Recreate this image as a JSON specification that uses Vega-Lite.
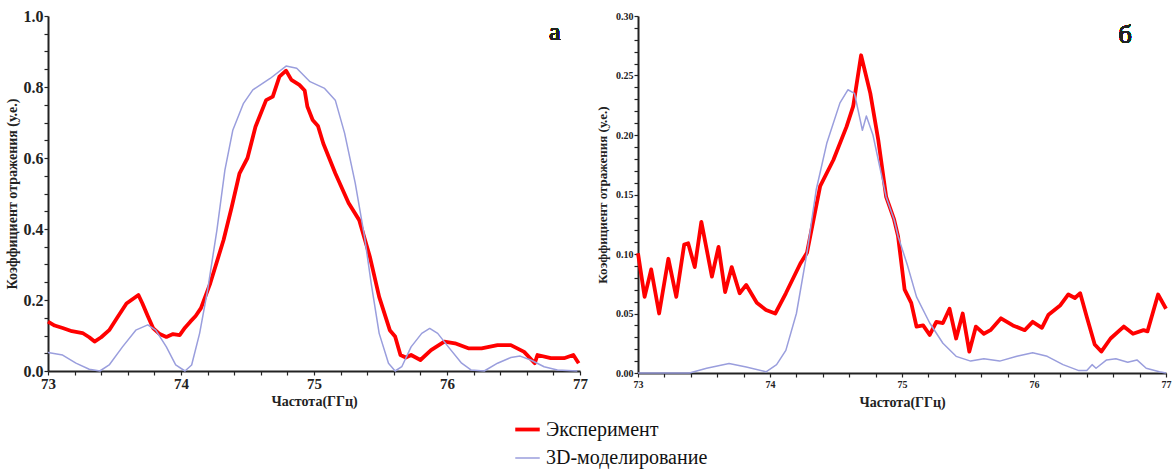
{
  "$schema": "https://vega.github.io/schema/vega-lite/v6.json",
  "padding": {"left": 5, "top": 8, "right": 5, "bottom": 5},
  "background": "white",
  "config": {
    "view": {"stroke": null},
    "axis": {"grid": false, "domainColor": "#222", "domainWidth": 2, "tickColor": "#222", "tickSize": 4, "tickWidth": 1.2, "labelFont": "Liberation Serif", "labelFontWeight": "bold", "labelColor": "#222", "titleFont": "Liberation Serif", "titleFontWeight": "bold", "titleColor": "#222", "labelFlush": false, "labelOverlap": false},
    "legend": {"labelFont": "Liberation Serif", "labelFontSize": 20, "labelColor": "#111", "labelLimit": 0, "symbolType": "stroke", "symbolSize": 600, "rowPadding": 5, "title": null}
  },
  "datasets": {
    "d": [
      {"panel": "a", "series": "Эксперимент", "f": 73.0, "r": 0.139},
      {"panel": "a", "series": "Эксперимент", "f": 73.05, "r": 0.128},
      {"panel": "a", "series": "Эксперимент", "f": 73.11, "r": 0.121},
      {"panel": "a", "series": "Эксперимент", "f": 73.18, "r": 0.112},
      {"panel": "a", "series": "Эксперимент", "f": 73.26, "r": 0.107},
      {"panel": "a", "series": "Эксперимент", "f": 73.31, "r": 0.095},
      {"panel": "a", "series": "Эксперимент", "f": 73.35, "r": 0.083},
      {"panel": "a", "series": "Эксперимент", "f": 73.4, "r": 0.095},
      {"panel": "a", "series": "Эксперимент", "f": 73.46, "r": 0.115},
      {"panel": "a", "series": "Эксперимент", "f": 73.52, "r": 0.15},
      {"panel": "a", "series": "Эксперимент", "f": 73.59, "r": 0.19},
      {"panel": "a", "series": "Эксперимент", "f": 73.68, "r": 0.214},
      {"panel": "a", "series": "Эксперимент", "f": 73.71, "r": 0.19},
      {"panel": "a", "series": "Эксперимент", "f": 73.75, "r": 0.155},
      {"panel": "a", "series": "Эксперимент", "f": 73.79, "r": 0.121},
      {"panel": "a", "series": "Эксперимент", "f": 73.84, "r": 0.104},
      {"panel": "a", "series": "Эксперимент", "f": 73.89, "r": 0.096},
      {"panel": "a", "series": "Эксперимент", "f": 73.94, "r": 0.104},
      {"panel": "a", "series": "Эксперимент", "f": 73.99, "r": 0.101},
      {"panel": "a", "series": "Эксперимент", "f": 74.03, "r": 0.122},
      {"panel": "a", "series": "Эксперимент", "f": 74.07, "r": 0.139},
      {"panel": "a", "series": "Эксперимент", "f": 74.11, "r": 0.155},
      {"panel": "a", "series": "Эксперимент", "f": 74.15, "r": 0.177},
      {"panel": "a", "series": "Эксперимент", "f": 74.22, "r": 0.247},
      {"panel": "a", "series": "Эксперимент", "f": 74.32, "r": 0.369},
      {"panel": "a", "series": "Эксперимент", "f": 74.38, "r": 0.46},
      {"panel": "a", "series": "Эксперимент", "f": 74.44, "r": 0.557},
      {"panel": "a", "series": "Эксперимент", "f": 74.5, "r": 0.6},
      {"panel": "a", "series": "Эксперимент", "f": 74.56, "r": 0.688},
      {"panel": "a", "series": "Эксперимент", "f": 74.64, "r": 0.763},
      {"panel": "a", "series": "Эксперимент", "f": 74.69, "r": 0.773},
      {"panel": "a", "series": "Эксперимент", "f": 74.74, "r": 0.829},
      {"panel": "a", "series": "Эксперимент", "f": 74.79, "r": 0.846},
      {"panel": "a", "series": "Эксперимент", "f": 74.83, "r": 0.82},
      {"panel": "a", "series": "Эксперимент", "f": 74.89, "r": 0.806},
      {"panel": "a", "series": "Эксперимент", "f": 74.93, "r": 0.79},
      {"panel": "a", "series": "Эксперимент", "f": 74.95, "r": 0.745},
      {"panel": "a", "series": "Эксперимент", "f": 74.99, "r": 0.707},
      {"panel": "a", "series": "Эксперимент", "f": 75.03, "r": 0.69},
      {"panel": "a", "series": "Эксперимент", "f": 75.07, "r": 0.641},
      {"panel": "a", "series": "Эксперимент", "f": 75.16, "r": 0.557},
      {"panel": "a", "series": "Эксперимент", "f": 75.26, "r": 0.473},
      {"panel": "a", "series": "Эксперимент", "f": 75.34, "r": 0.425},
      {"panel": "a", "series": "Эксперимент", "f": 75.42, "r": 0.322},
      {"panel": "a", "series": "Эксперимент", "f": 75.49, "r": 0.209},
      {"panel": "a", "series": "Эксперимент", "f": 75.57, "r": 0.115},
      {"panel": "a", "series": "Эксперимент", "f": 75.61, "r": 0.097},
      {"panel": "a", "series": "Эксперимент", "f": 75.65, "r": 0.045},
      {"panel": "a", "series": "Эксперимент", "f": 75.69, "r": 0.038},
      {"panel": "a", "series": "Эксперимент", "f": 75.73, "r": 0.045},
      {"panel": "a", "series": "Эксперимент", "f": 75.8, "r": 0.031},
      {"panel": "a", "series": "Эксперимент", "f": 75.88, "r": 0.059},
      {"panel": "a", "series": "Эксперимент", "f": 75.98, "r": 0.083},
      {"panel": "a", "series": "Эксперимент", "f": 76.06, "r": 0.078},
      {"panel": "a", "series": "Эксперимент", "f": 76.16, "r": 0.064},
      {"panel": "a", "series": "Эксперимент", "f": 76.26, "r": 0.064},
      {"panel": "a", "series": "Эксперимент", "f": 76.38, "r": 0.073},
      {"panel": "a", "series": "Эксперимент", "f": 76.48, "r": 0.073},
      {"panel": "a", "series": "Эксперимент", "f": 76.58, "r": 0.054},
      {"panel": "a", "series": "Эксперимент", "f": 76.66, "r": 0.022},
      {"panel": "a", "series": "Эксперимент", "f": 76.68, "r": 0.045},
      {"panel": "a", "series": "Эксперимент", "f": 76.78, "r": 0.036},
      {"panel": "a", "series": "Эксперимент", "f": 76.88, "r": 0.036},
      {"panel": "a", "series": "Эксперимент", "f": 76.95, "r": 0.045},
      {"panel": "a", "series": "Эксперимент", "f": 76.99, "r": 0.022},

      {"panel": "a", "series": "3D-моделирование", "f": 73.0, "r": 0.052},
      {"panel": "a", "series": "3D-моделирование", "f": 73.11, "r": 0.045},
      {"panel": "a", "series": "3D-моделирование", "f": 73.21, "r": 0.022},
      {"panel": "a", "series": "3D-моделирование", "f": 73.31, "r": 0.005},
      {"panel": "a", "series": "3D-моделирование", "f": 73.39, "r": 0.0},
      {"panel": "a", "series": "3D-моделирование", "f": 73.46, "r": 0.017},
      {"panel": "a", "series": "3D-моделирование", "f": 73.56, "r": 0.068},
      {"panel": "a", "series": "3D-моделирование", "f": 73.66, "r": 0.115},
      {"panel": "a", "series": "3D-моделирование", "f": 73.75, "r": 0.13},
      {"panel": "a", "series": "3D-моделирование", "f": 73.81, "r": 0.115},
      {"panel": "a", "series": "3D-моделирование", "f": 73.89, "r": 0.068},
      {"panel": "a", "series": "3D-моделирование", "f": 73.96, "r": 0.017},
      {"panel": "a", "series": "3D-моделирование", "f": 74.03, "r": 0.0},
      {"panel": "a", "series": "3D-моделирование", "f": 74.08, "r": 0.017},
      {"panel": "a", "series": "3D-моделирование", "f": 74.14, "r": 0.106},
      {"panel": "a", "series": "3D-моделирование", "f": 74.2, "r": 0.228},
      {"panel": "a", "series": "3D-моделирование", "f": 74.27, "r": 0.397},
      {"panel": "a", "series": "3D-моделирование", "f": 74.33, "r": 0.566},
      {"panel": "a", "series": "3D-моделирование", "f": 74.39, "r": 0.679},
      {"panel": "a", "series": "3D-моделирование", "f": 74.47, "r": 0.754},
      {"panel": "a", "series": "3D-моделирование", "f": 74.54, "r": 0.792},
      {"panel": "a", "series": "3D-моделирование", "f": 74.67, "r": 0.824},
      {"panel": "a", "series": "3D-моделирование", "f": 74.79, "r": 0.859},
      {"panel": "a", "series": "3D-моделирование", "f": 74.87, "r": 0.853},
      {"panel": "a", "series": "3D-моделирование", "f": 74.97, "r": 0.815},
      {"panel": "a", "series": "3D-моделирование", "f": 75.08, "r": 0.796},
      {"panel": "a", "series": "3D-моделирование", "f": 75.16, "r": 0.763},
      {"panel": "a", "series": "3D-моделирование", "f": 75.23, "r": 0.67},
      {"panel": "a", "series": "3D-моделирование", "f": 75.31, "r": 0.529},
      {"panel": "a", "series": "3D-моделирование", "f": 75.38, "r": 0.378},
      {"panel": "a", "series": "3D-моделирование", "f": 75.43, "r": 0.247},
      {"panel": "a", "series": "3D-моделирование", "f": 75.49, "r": 0.106},
      {"panel": "a", "series": "3D-моделирование", "f": 75.56, "r": 0.022},
      {"panel": "a", "series": "3D-моделирование", "f": 75.61, "r": 0.0},
      {"panel": "a", "series": "3D-моделирование", "f": 75.66, "r": 0.012},
      {"panel": "a", "series": "3D-моделирование", "f": 75.73, "r": 0.068},
      {"panel": "a", "series": "3D-моделирование", "f": 75.81, "r": 0.106},
      {"panel": "a", "series": "3D-моделирование", "f": 75.87, "r": 0.12},
      {"panel": "a", "series": "3D-моделирование", "f": 75.93, "r": 0.106},
      {"panel": "a", "series": "3D-моделирование", "f": 76.01, "r": 0.068},
      {"panel": "a", "series": "3D-моделирование", "f": 76.11, "r": 0.022},
      {"panel": "a", "series": "3D-моделирование", "f": 76.18, "r": 0.003},
      {"panel": "a", "series": "3D-моделирование", "f": 76.28, "r": 0.0},
      {"panel": "a", "series": "3D-моделирование", "f": 76.38, "r": 0.022},
      {"panel": "a", "series": "3D-моделирование", "f": 76.48, "r": 0.038},
      {"panel": "a", "series": "3D-моделирование", "f": 76.55, "r": 0.042},
      {"panel": "a", "series": "3D-моделирование", "f": 76.63, "r": 0.031},
      {"panel": "a", "series": "3D-моделирование", "f": 76.73, "r": 0.012},
      {"panel": "a", "series": "3D-моделирование", "f": 76.83, "r": 0.003},
      {"panel": "a", "series": "3D-моделирование", "f": 76.98, "r": 0.0},

      {"panel": "b", "series": "Эксперимент", "f": 73.0, "r": 0.1006},
      {"panel": "b", "series": "Эксперимент", "f": 73.05, "r": 0.064},
      {"panel": "b", "series": "Эксперимент", "f": 73.1, "r": 0.087},
      {"panel": "b", "series": "Эксперимент", "f": 73.16, "r": 0.05},
      {"panel": "b", "series": "Эксперимент", "f": 73.23, "r": 0.096},
      {"panel": "b", "series": "Эксперимент", "f": 73.29, "r": 0.064},
      {"panel": "b", "series": "Эксперимент", "f": 73.35, "r": 0.108},
      {"panel": "b", "series": "Эксперимент", "f": 73.38, "r": 0.109},
      {"panel": "b", "series": "Эксперимент", "f": 73.43, "r": 0.089},
      {"panel": "b", "series": "Эксперимент", "f": 73.48, "r": 0.127},
      {"panel": "b", "series": "Эксперимент", "f": 73.56, "r": 0.081},
      {"panel": "b", "series": "Эксперимент", "f": 73.61, "r": 0.106},
      {"panel": "b", "series": "Эксперимент", "f": 73.66, "r": 0.068},
      {"panel": "b", "series": "Эксперимент", "f": 73.71, "r": 0.089},
      {"panel": "b", "series": "Эксперимент", "f": 73.77, "r": 0.067},
      {"panel": "b", "series": "Эксперимент", "f": 73.82, "r": 0.074},
      {"panel": "b", "series": "Эксперимент", "f": 73.9, "r": 0.059},
      {"panel": "b", "series": "Эксперимент", "f": 73.97, "r": 0.053},
      {"panel": "b", "series": "Эксперимент", "f": 74.04, "r": 0.05},
      {"panel": "b", "series": "Эксперимент", "f": 74.12, "r": 0.067},
      {"panel": "b", "series": "Эксперимент", "f": 74.23, "r": 0.092},
      {"panel": "b", "series": "Эксперимент", "f": 74.28, "r": 0.101},
      {"panel": "b", "series": "Эксперимент", "f": 74.38, "r": 0.157},
      {"panel": "b", "series": "Эксперимент", "f": 74.48, "r": 0.179},
      {"panel": "b", "series": "Эксперимент", "f": 74.58, "r": 0.207},
      {"panel": "b", "series": "Эксперимент", "f": 74.63, "r": 0.224},
      {"panel": "b", "series": "Эксперимент", "f": 74.69, "r": 0.267},
      {"panel": "b", "series": "Эксперимент", "f": 74.76, "r": 0.235},
      {"panel": "b", "series": "Эксперимент", "f": 74.82, "r": 0.196},
      {"panel": "b", "series": "Эксперимент", "f": 74.88, "r": 0.148},
      {"panel": "b", "series": "Эксперимент", "f": 74.94, "r": 0.129},
      {"panel": "b", "series": "Эксперимент", "f": 74.97, "r": 0.115},
      {"panel": "b", "series": "Эксперимент", "f": 75.02, "r": 0.07},
      {"panel": "b", "series": "Эксперимент", "f": 75.07, "r": 0.059},
      {"panel": "b", "series": "Эксперимент", "f": 75.11, "r": 0.039},
      {"panel": "b", "series": "Эксперимент", "f": 75.16, "r": 0.04},
      {"panel": "b", "series": "Эксперимент", "f": 75.21, "r": 0.032},
      {"panel": "b", "series": "Эксперимент", "f": 75.26, "r": 0.043},
      {"panel": "b", "series": "Эксперимент", "f": 75.31, "r": 0.042},
      {"panel": "b", "series": "Эксперимент", "f": 75.36, "r": 0.054},
      {"panel": "b", "series": "Эксперимент", "f": 75.41, "r": 0.029},
      {"panel": "b", "series": "Эксперимент", "f": 75.46, "r": 0.05},
      {"panel": "b", "series": "Эксперимент", "f": 75.51, "r": 0.018},
      {"panel": "b", "series": "Эксперимент", "f": 75.56, "r": 0.039},
      {"panel": "b", "series": "Эксперимент", "f": 75.62, "r": 0.033},
      {"panel": "b", "series": "Эксперимент", "f": 75.67, "r": 0.036},
      {"panel": "b", "series": "Эксперимент", "f": 75.75, "r": 0.046},
      {"panel": "b", "series": "Эксперимент", "f": 75.84, "r": 0.04},
      {"panel": "b", "series": "Эксперимент", "f": 75.93, "r": 0.036},
      {"panel": "b", "series": "Эксперимент", "f": 75.99, "r": 0.043},
      {"panel": "b", "series": "Эксперимент", "f": 76.06, "r": 0.038},
      {"panel": "b", "series": "Эксперимент", "f": 76.11, "r": 0.049},
      {"panel": "b", "series": "Эксперимент", "f": 76.2, "r": 0.057},
      {"panel": "b", "series": "Эксперимент", "f": 76.26, "r": 0.066},
      {"panel": "b", "series": "Эксперимент", "f": 76.31, "r": 0.063},
      {"panel": "b", "series": "Эксперимент", "f": 76.35, "r": 0.067},
      {"panel": "b", "series": "Эксперимент", "f": 76.4, "r": 0.047},
      {"panel": "b", "series": "Эксперимент", "f": 76.46, "r": 0.024},
      {"panel": "b", "series": "Эксперимент", "f": 76.51, "r": 0.018},
      {"panel": "b", "series": "Эксперимент", "f": 76.58, "r": 0.029},
      {"panel": "b", "series": "Эксперимент", "f": 76.68, "r": 0.039},
      {"panel": "b", "series": "Эксперимент", "f": 76.75, "r": 0.033},
      {"panel": "b", "series": "Эксперимент", "f": 76.83, "r": 0.036},
      {"panel": "b", "series": "Эксперимент", "f": 76.86, "r": 0.035},
      {"panel": "b", "series": "Эксперимент", "f": 76.94, "r": 0.066},
      {"panel": "b", "series": "Эксперимент", "f": 77.0, "r": 0.054},

      {"panel": "b", "series": "3D-моделирование", "f": 73.0, "r": 0.0},
      {"panel": "b", "series": "3D-моделирование", "f": 73.39, "r": 0.0},
      {"panel": "b", "series": "3D-моделирование", "f": 73.52, "r": 0.004},
      {"panel": "b", "series": "3D-моделирование", "f": 73.69, "r": 0.008},
      {"panel": "b", "series": "3D-моделирование", "f": 73.82, "r": 0.005},
      {"panel": "b", "series": "3D-моделирование", "f": 73.97, "r": 0.001},
      {"panel": "b", "series": "3D-моделирование", "f": 74.05, "r": 0.007},
      {"panel": "b", "series": "3D-моделирование", "f": 74.12, "r": 0.019},
      {"panel": "b", "series": "3D-моделирование", "f": 74.2, "r": 0.05},
      {"panel": "b", "series": "3D-моделирование", "f": 74.28, "r": 0.101},
      {"panel": "b", "series": "3D-моделирование", "f": 74.35, "r": 0.154},
      {"panel": "b", "series": "3D-моделирование", "f": 74.43, "r": 0.193},
      {"panel": "b", "series": "3D-моделирование", "f": 74.53, "r": 0.227},
      {"panel": "b", "series": "3D-моделирование", "f": 74.59, "r": 0.238},
      {"panel": "b", "series": "3D-моделирование", "f": 74.64, "r": 0.235},
      {"panel": "b", "series": "3D-моделирование", "f": 74.7, "r": 0.204},
      {"panel": "b", "series": "3D-моделирование", "f": 74.73, "r": 0.216},
      {"panel": "b", "series": "3D-моделирование", "f": 74.78, "r": 0.2},
      {"panel": "b", "series": "3D-моделирование", "f": 74.88, "r": 0.148},
      {"panel": "b", "series": "3D-моделирование", "f": 74.94, "r": 0.129},
      {"panel": "b", "series": "3D-моделирование", "f": 74.97, "r": 0.115},
      {"panel": "b", "series": "3D-моделирование", "f": 75.04, "r": 0.091},
      {"panel": "b", "series": "3D-моделирование", "f": 75.11, "r": 0.064},
      {"panel": "b", "series": "3D-моделирование", "f": 75.21, "r": 0.042},
      {"panel": "b", "series": "3D-моделирование", "f": 75.31, "r": 0.025},
      {"panel": "b", "series": "3D-моделирование", "f": 75.41, "r": 0.014},
      {"panel": "b", "series": "3D-моделирование", "f": 75.52, "r": 0.01},
      {"panel": "b", "series": "3D-моделирование", "f": 75.62, "r": 0.012},
      {"panel": "b", "series": "3D-моделирование", "f": 75.74, "r": 0.01},
      {"panel": "b", "series": "3D-моделирование", "f": 75.87, "r": 0.014},
      {"panel": "b", "series": "3D-моделирование", "f": 75.99, "r": 0.017},
      {"panel": "b", "series": "3D-моделирование", "f": 76.1, "r": 0.014},
      {"panel": "b", "series": "3D-моделирование", "f": 76.22, "r": 0.007},
      {"panel": "b", "series": "3D-моделирование", "f": 76.34, "r": 0.002},
      {"panel": "b", "series": "3D-моделирование", "f": 76.4, "r": 0.002},
      {"panel": "b", "series": "3D-моделирование", "f": 76.44, "r": 0.007},
      {"panel": "b", "series": "3D-моделирование", "f": 76.47, "r": 0.004},
      {"panel": "b", "series": "3D-моделирование", "f": 76.55, "r": 0.011},
      {"panel": "b", "series": "3D-моделирование", "f": 76.62, "r": 0.012},
      {"panel": "b", "series": "3D-моделирование", "f": 76.71, "r": 0.009},
      {"panel": "b", "series": "3D-моделирование", "f": 76.78, "r": 0.011},
      {"panel": "b", "series": "3D-моделирование", "f": 76.85, "r": 0.004},
      {"panel": "b", "series": "3D-моделирование", "f": 76.95, "r": 0.001},
      {"panel": "b", "series": "3D-моделирование", "f": 77.0, "r": 0.0}
    ]
  },
  "spacing": 8,
  "hconcat": [
    {
      "width": 532,
      "height": 355,
      "data": {"name": "d"},
      "transform": [{"filter": "datum.panel === 'a'"}],
      "layer": [
        {
          "mark": {"type": "line", "interpolate": "linear", "strokeJoin": "round"},
          "encoding": {
            "x": {"field": "f", "type": "quantitative", "scale": {"domain": [73, 77], "nice": false}, "axis": {"title": "Частота(ГГц)", "titleFontSize": 14, "titlePadding": 3, "labelFontSize": 15, "labelPadding": 1, "labelOverlap": false, "tickCount": 100, "values": [73, 73.2, 73.4, 73.6, 73.8, 74, 74.2, 74.4, 74.6, 74.8, 75, 75.2, 75.4, 75.6, 75.8, 76, 76.2, 76.4, 76.6, 76.8, 77], "labelExpr": "abs(datum.value - round(datum.value)) < 0.001 ? format(datum.value, 'd') : ''"}},
            "y": {"field": "r", "type": "quantitative", "scale": {"domain": [0, 1], "nice": false}, "axis": {"title": "Коэффициент отражения (у.е.)", "titleFontSize": 14, "titlePadding": 4, "labelFontSize": 16, "labelPadding": 1, "labelOverlap": false, "tickCount": 100, "values": [0, 0.05, 0.1, 0.15, 0.2, 0.25, 0.3, 0.35, 0.4, 0.45, 0.5, 0.55, 0.6, 0.65, 0.7, 0.75, 0.8, 0.85, 0.9, 0.95, 1.0], "labelExpr": "abs(datum.value * 5 - round(datum.value * 5)) < 0.001 ? format(datum.value, '.1f') : ''"}},
            "color": {"field": "series", "type": "nominal", "scale": {"domain": ["Эксперимент", "3D-моделирование"], "range": ["#ff0000", "#9a9edd"]}, "legend": {"orient": "none", "legendX": 465, "legendY": 399, "labelLimit": 0}},
            "strokeWidth": {"field": "series", "type": "nominal", "scale": {"type": "ordinal", "domain": ["Эксперимент", "3D-моделирование"], "range": [3.8, 1.5]}},
            "order": {"field": "f", "type": "quantitative"},
            "detail": {"field": "series"}
          }
        },
        {
          "mark": {"type": "text", "font": "Liberation Serif", "fontSize": 26, "fontWeight": 400, "color": "#222", "align": "center", "baseline": "middle"},
          "encoding": {"x": {"datum": 76.81}, "y": {"datum": 0.955}, "text": {"value": "а"}}
        }
      ]
    },
    {
      "width": 528,
      "height": 357,
      "data": {"name": "d"},
      "transform": [{"filter": "datum.panel === 'b'"}],
      "layer": [
        {
          "mark": {"type": "line", "interpolate": "linear", "strokeJoin": "round"},
          "encoding": {
            "x": {"field": "f", "type": "quantitative", "scale": {"domain": [73, 77], "nice": false}, "axis": {"title": "Частота(ГГц)", "titleFontSize": 14, "titlePadding": 6, "labelFontSize": 10, "labelPadding": 2, "labelOverlap": false, "tickCount": 100, "values": [73, 73.2, 73.4, 73.6, 73.8, 74, 74.2, 74.4, 74.6, 74.8, 75, 75.2, 75.4, 75.6, 75.8, 76, 76.2, 76.4, 76.6, 76.8, 77], "labelExpr": "abs(datum.value - round(datum.value)) < 0.001 ? format(datum.value, 'd') : ''"}},
            "y": {"field": "r", "type": "quantitative", "scale": {"domain": [0, 0.3], "nice": false}, "axis": {"title": "Коэффициент отражения (у.е.)", "titleFontSize": 13, "titlePadding": 6, "labelFontSize": 10, "labelPadding": 1, "labelOverlap": false, "tickCount": 100, "values": [0, 0.01, 0.02, 0.03, 0.04, 0.05, 0.06, 0.07, 0.08, 0.09, 0.1, 0.11, 0.12, 0.13, 0.14, 0.15, 0.16, 0.17, 0.18, 0.19, 0.2, 0.21, 0.22, 0.23, 0.24, 0.25, 0.26, 0.27, 0.28, 0.29, 0.3], "labelExpr": "abs(datum.value * 20 - round(datum.value * 20)) < 0.001 ? format(datum.value, '.2f') : ''"}},
            "color": {"field": "series", "type": "nominal", "scale": {"domain": ["Эксперимент", "3D-моделирование"], "range": ["#ff0000", "#9a9edd"]}, "legend": {"orient": "none", "legendX": 465, "legendY": 399, "labelLimit": 0}},
            "strokeWidth": {"field": "series", "type": "nominal", "scale": {"type": "ordinal", "domain": ["Эксперимент", "3D-моделирование"], "range": [3.8, 1.5]}},
            "order": {"field": "f", "type": "quantitative"},
            "detail": {"field": "series"}
          }
        },
        {
          "mark": {"type": "text", "font": "Liberation Serif", "fontSize": 26, "fontWeight": 400, "color": "#222", "align": "center", "baseline": "middle"},
          "encoding": {"x": {"datum": 76.69}, "y": {"datum": 0.284}, "text": {"value": "б"}}
        }
      ]
    }
  ]
}
